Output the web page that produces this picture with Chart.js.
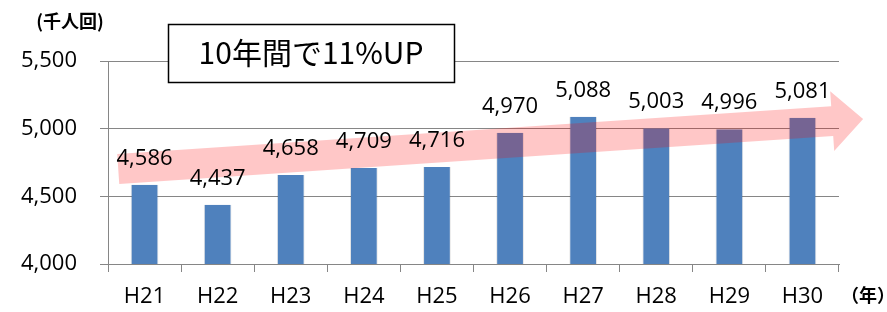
<!DOCTYPE html>
<html>
<head>
<meta charset="utf-8">
<script src="https://cdn.jsdelivr.net/npm/chart.js@4.4.1/dist/chart.umd.min.js"></script>
<style>
html,body{margin:0;padding:0;background:#fff;}
canvas{display:block;}
</style>
</head>
<body>
<canvas id="c" width="887" height="312"></canvas>
<script>
const categories = ['H21','H22','H23','H24','H25','H26','H27','H28','H29','H30'];
const visits = [4586, 4437, 4658, 4709, 4716, 4970, 5088, 5003, 4996, 5081];
const yTicks = [4000, 4500, 5000, 5500];
const unitLabel = '(千人回)';
const yearLabel = '（年）';
const calloutText = '10年間で11%UP';
// trend arrow, in category-index / value coordinates
const arrowStart = {x: -0.36, y: 4702};
const arrowTip = {x: 9.83, y: 5071};

const LATIN = '"Open Sans", "Noto Sans", sans-serif';
const CJK = '"Noto Sans CJK JP", sans-serif';
const fmt = v => v.toLocaleString('en-US');

const overlay = {
  id: 'overlay',
  afterDatasetsDraw(chart) {
    const ctx = chart.ctx;
    const xs = chart.scales.x, ys = chart.scales.y;
    // arrow
    const x0 = xs.getPixelForValue(arrowStart.x), y0 = ys.getPixelForValue(arrowStart.y);
    const x1 = xs.getPixelForValue(arrowTip.x), y1 = ys.getPixelForValue(arrowTip.y);
    const dx = x1 - x0, dy = y1 - y0, len = Math.hypot(dx, dy);
    const ux = dx / len, uy = dy / len, nx = -uy, ny = ux;
    const sw = 15, hw = 30, hl = 31;
    const bx = x1 - ux * hl, by = y1 - uy * hl;
    ctx.save();
    ctx.fillStyle = 'rgba(255,0,0,0.22)';
    ctx.beginPath();
    ctx.moveTo(x0 + nx * sw, y0 + ny * sw);
    ctx.lineTo(bx + nx * sw, by + ny * sw);
    ctx.lineTo(bx + nx * hw, by + ny * hw);
    ctx.lineTo(x1, y1);
    ctx.lineTo(bx - nx * hw, by - ny * hw);
    ctx.lineTo(bx - nx * sw, by - ny * sw);
    ctx.lineTo(x0 - nx * sw, y0 - ny * sw);
    ctx.closePath();
    ctx.fill();
    // data labels
    ctx.fillStyle = '#000';
    ctx.font = '22px ' + LATIN;
    ctx.textAlign = 'center';
    ctx.textBaseline = 'alphabetic';
    const meta = chart.getDatasetMeta(0);
    meta.data.forEach((bar, i) => {
      ctx.fillText(fmt(visits[i]), bar.x, bar.y - 20);
    });
    ctx.restore();
  },
  afterDraw(chart) {
    const ctx = chart.ctx;
    ctx.save();
    // callout box
    ctx.fillStyle = '#fff';
    ctx.fillRect(168, 24, 287, 59);
    ctx.strokeStyle = '#000';
    ctx.lineWidth = 1.5;
    ctx.strokeRect(168.5, 24.5, 286, 58);
    ctx.fillStyle = '#000';
    ctx.font = '30px ' + CJK;
    ctx.textAlign = 'center';
    ctx.textBaseline = 'middle';
    ctx.fillText(calloutText, 311, 53);
    // unit labels
    ctx.font = 'bold 18px ' + CJK;
    ctx.fillText(unitLabel, 70, 21);
    ctx.fillText(yearLabel, 868, 295);
    ctx.restore();
  }
};

new Chart(document.getElementById('c'), {
  type: 'bar',
  data: {
    labels: categories,
    datasets: [{
      data: visits,
      backgroundColor: '#4f81bd',
      borderColor: 'rgba(0,0,0,0.10)',
      borderWidth: {left: 1, right: 1, top: 0, bottom: 0},
      barPercentage: 0.38,
      categoryPercentage: 1
    }]
  },
  options: {
    responsive: false,
    animation: false,
    layout: {padding: {top: 61, right: 48, left: 0, bottom: 0}},
    plugins: {legend: {display: false}, tooltip: {enabled: false}},
    scales: {
      x: {
        offset: true,
        grid: {drawOnChartArea: false, tickLength: 8, color: '#868686', offset: true},
        border: {color: '#868686', width: 1},
        ticks: {font: {size: 22, family: LATIN}, color: '#000', padding: 12, maxRotation: 0},
        afterFit(s) { s.height = 48; }
      },
      y: {
        min: yTicks[0],
        max: yTicks[yTicks.length - 1],
        afterBuildTicks(s) { s.ticks = yTicks.map(v => ({value: v})); },
        grid: {color: '#868686', tickLength: 8, lineWidth: 1},
        border: {color: '#868686', width: 1},
        ticks: {font: {size: 22, family: LATIN}, color: '#000', padding: 23, callback: v => fmt(v)},
        afterFit(s) { s.width = 108; }
      }
    }
  },
  plugins: [overlay]
});
</script>
</body>
</html>
